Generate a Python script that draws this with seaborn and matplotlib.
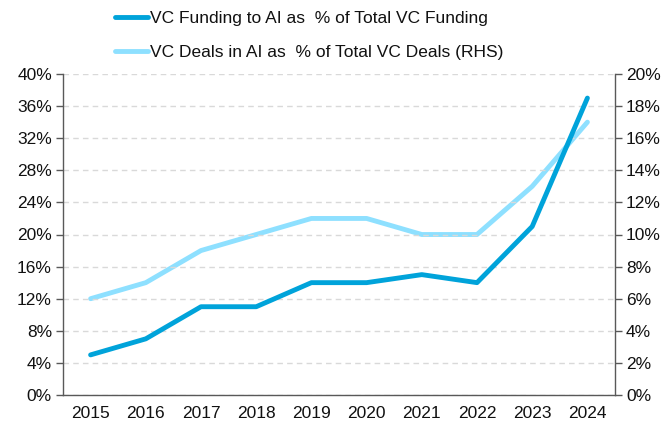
import seaborn as sns
from matplotlib import pyplot as plt
from matplotlib.ticker import FuncFormatter, FixedLocator
import numpy as np
import pandas as pd

years = ['2015', '2016', '2017', '2018', '2019', '2020', '2021', '2022', '2023', '2024']
funding_pct = [5, 7, 11, 11, 14, 14, 15, 14, 21, 37]
deals_pct = [6, 7, 9, 10, 11, 11, 10, 10, 13, 17]

label_funding = 'VC Funding to AI as  % of Total VC Funding'
label_deals = 'VC Deals in AI as  % of Total VC Deals (RHS)'
dark = '#00A3DA'
light = '#8EE0FF'


def main():
    sns.set_style('white')
    plt.rcParams['font.family'] = ['Liberation Sans', 'DejaVu Sans']
    plt.rcParams['font.size'] = 12.5
    plt.rcParams['text.color'] = '#111111'
    plt.rcParams['xtick.labelcolor'] = '#111111'
    plt.rcParams['ytick.labelcolor'] = '#111111'

    df = pd.DataFrame({'x': np.arange(len(years)), 'funding': funding_pct, 'deals': deals_pct})

    fig = plt.figure(figsize=(6.68, 4.34), dpi=100)
    ax = fig.add_axes([63 / 668, 1 - 395 / 434, (615 - 63) / 668, (395 - 74) / 434])
    ax2 = ax.twinx()

    ax.yaxis.grid(True, color='#D9D9D9', linestyle=(0, (4, 3)), linewidth=1)
    ax.set_axisbelow(True)

    sns.lineplot(data=df, x='x', y='deals', ax=ax2, color=light, linewidth=3.5, label=label_deals, legend=False)
    sns.lineplot(data=df, x='x', y='funding', ax=ax, color=dark, linewidth=3.5, label=label_funding, legend=False)
    ax.set_zorder(ax2.get_zorder() + 1)
    ax.patch.set_visible(False)

    ax.set_xlim(-0.5, len(years) - 0.5)
    ax.set_ylim(0, 40)
    ax2.set_ylim(0, 20)
    ax.set_yticks(np.arange(0, 41, 4))
    ax2.set_yticks(np.arange(0, 21, 2))
    pct = FuncFormatter(lambda v, p: f'{v:.0f}%')
    ax.yaxis.set_major_formatter(pct)
    ax2.yaxis.set_major_formatter(pct)
    ax.set_xticks(np.arange(len(years)))
    ax.set_xticklabels(years)
    ax.xaxis.set_minor_locator(FixedLocator(np.arange(-0.5, len(years), 1)))
    ax.tick_params(axis='x', which='major', length=0, pad=8)
    ax.tick_params(axis='x', which='minor', length=5, width=1, color='#595959', direction='out')
    ax.tick_params(axis='y', length=5, width=1, color='#595959', direction='out', pad=3)
    ax2.tick_params(axis='y', length=5, width=1, color='#595959', direction='out', pad=3)
    ax.set_xlabel('')
    ax.set_ylabel('')
    ax2.set_ylabel('')

    for a in (ax, ax2):
        a.spines['top'].set_visible(False)
        for s in ('left', 'right', 'bottom'):
            a.spines[s].set_color('#595959')
            a.spines[s].set_linewidth(1)
    ax.spines['right'].set_visible(False)
    ax2.spines['left'].set_visible(False)
    ax2.spines['bottom'].set_visible(False)

    h1, l1 = ax.get_legend_handles_labels()
    h2, l2 = ax2.get_legend_handles_labels()
    fig.legend(h1 + h2, l1 + l2, loc='upper left', bbox_to_anchor=(115 / 668, 1 - 11 / 434),
               ncol=1, frameon=False, handlelength=1.9, handletextpad=0.1,
               labelspacing=1.1, borderaxespad=0, borderpad=0, fontsize=12.5)

    fig.savefig('out.png', dpi=100)


if __name__ == '__main__':
    main()
